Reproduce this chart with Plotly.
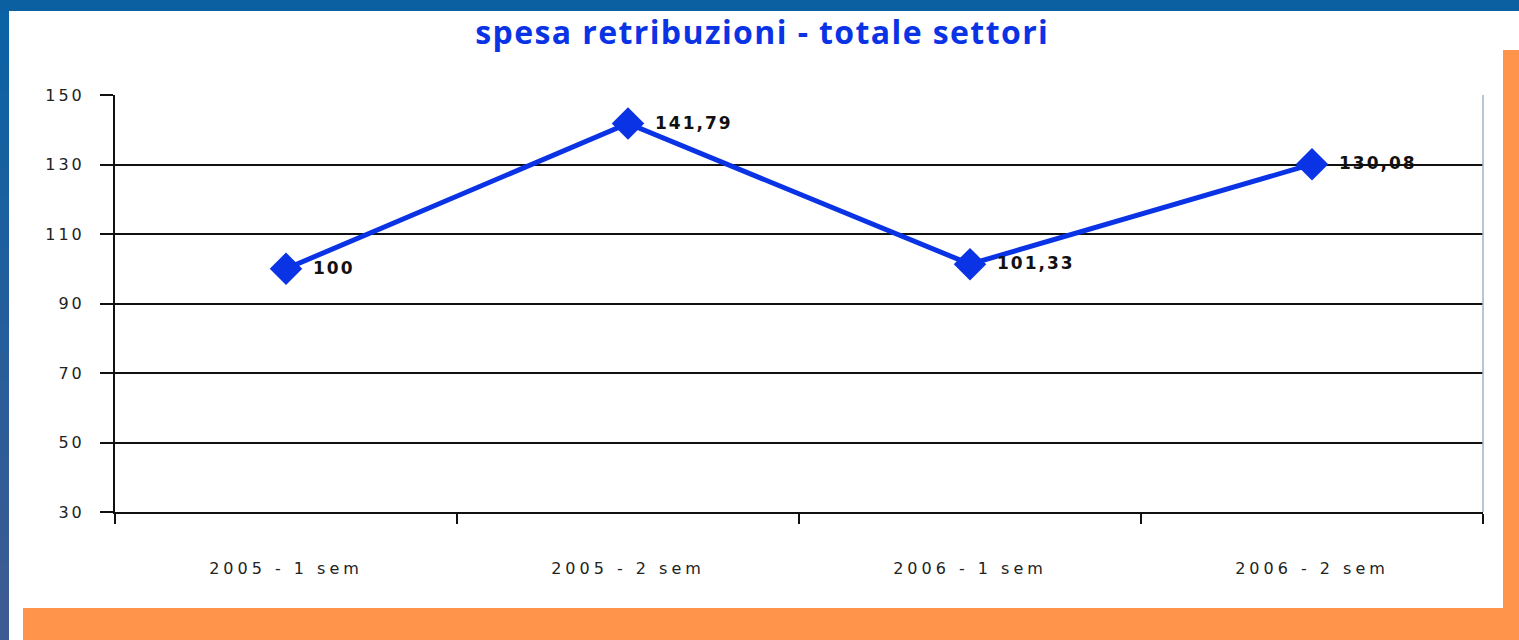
import plotly.graph_objects as go

# ---- data ----
categories = ["2005 - 1 sem", "2005 - 2 sem", "2006 - 1 sem", "2006 - 2 sem"]
values = [100, 141.79, 101.33, 130.08]
y_ticks = [30, 50, 70, 90, 110, 130, 150]
title_text = "spesa retribuzioni - totale settori"

W, H = 1519, 640
L, R, T, B = 115, 36, 95, 128
PW, PH = W - L - R, H - T - B


def px(x):
    return (x - L) / PW


def py(y):
    return (H - B - y) / PH


def fmt(v):
    return str(int(v)) if float(v).is_integer() else f"{v:.2f}".replace(".", ",")


def spaced(t, s):
    return f'<span style="letter-spacing:{s}px">{t}</span>'


BLUE = "#0a33e6"
ORANGE = "#ff944a"

fig = go.Figure()
fig.add_trace(go.Scatter(
    x=categories, y=values, mode="lines+markers",
    line=dict(color=BLUE, width=5),
    marker=dict(symbol="diamond", size=25, color=BLUE),
    showlegend=False, hoverinfo="skip",
))

for c, v in zip(categories, values):
    fig.add_annotation(
        x=c, y=v, text=spaced(fmt(v), 2), showarrow=False,
        xanchor="left", yanchor="middle", xshift=25, yshift=1,
        font=dict(family="DejaVu Sans", size=17, color="#111111", weight="bold"),
    )

shapes = []
# white panel
shapes.append(dict(type="rect", xref="paper", yref="paper", layer="below",
                   x0=px(9), x1=px(W + 5), y0=py(11), y1=py(H + 5),
                   fillcolor="white", line=dict(width=0)))
# left strip gradient
top_c = (11, 98, 164)
bot_c = (62, 90, 146)
n = 24
for i in range(n):
    f = i / (n - 1)
    col = tuple(int(round(top_c[k] + (bot_c[k] - top_c[k]) * f)) for k in range(3))
    y0 = 11 + (H - 11) * i / n
    y1 = 11 + (H - 11) * (i + 1) / n + 1
    shapes.append(dict(type="rect", xref="paper", yref="paper", layer="below",
                       x0=px(-2), x1=px(9), y0=py(y0), y1=py(y1),
                       fillcolor="rgb(%d,%d,%d)" % col, line=dict(width=0)))
# orange frame
shapes.append(dict(type="rect", xref="paper", yref="paper", layer="below",
                   x0=px(1503), x1=px(W + 5), y0=py(50), y1=py(H + 5),
                   fillcolor=ORANGE, line=dict(width=0)))
shapes.append(dict(type="rect", xref="paper", yref="paper", layer="below",
                   x0=px(23), x1=px(W + 5), y0=py(608), y1=py(H + 5),
                   fillcolor=ORANGE, line=dict(width=0)))
# right edge of plot area
shapes.append(dict(type="line", xref="paper", yref="paper",
                   x0=1, x1=1, y0=0, y1=1,
                   line=dict(color="#9fb6c6", width=1.5)))

fig.update_layout(
    width=W, height=H,
    margin=dict(l=L, r=R, t=T, b=B),
    paper_bgcolor="#0b60a2",
    plot_bgcolor="white",
    shapes=shapes,
    title=dict(text=spaced(title_text, 1.4), x=px(543), xanchor="left",
               y=1 - 33 / H, yanchor="middle",
               font=dict(family="Open Sans", size=32, color=BLUE, weight="bold")),
    xaxis=dict(
        type="category", range=[-0.5, 3.5],
        tickson="boundaries", ticks="outside", ticklen=10, tickwidth=2,
        tickcolor="#111111", showline=True, linecolor="#111111", linewidth=2,
        showgrid=False,
        tickvals=categories, ticktext=[spaced(c, 4) for c in categories],
        tickfont=dict(family="DejaVu Sans", size=16, color="#222222"),
        ticklabelstandoff=41,
    ),
    yaxis=dict(
        range=[30, 150], tickvals=y_ticks,
        ticktext=[spaced(str(t), 3) for t in y_ticks],
        ticks="outside", ticklen=13, tickwidth=2, tickcolor="#111111",
        showline=True, linecolor="#111111", linewidth=2,
        showgrid=True, gridcolor="#111111", gridwidth=2,
        zeroline=False,
        tickfont=dict(family="DejaVu Sans", size=16, color="#222222"),
        ticklabelstandoff=12,
    ),
)

fig.write_html(
    "out.html",
    config={"displayModeBar": False},
    post_script="document.body.style.margin='0';document.body.style.overflow='hidden';",
)
